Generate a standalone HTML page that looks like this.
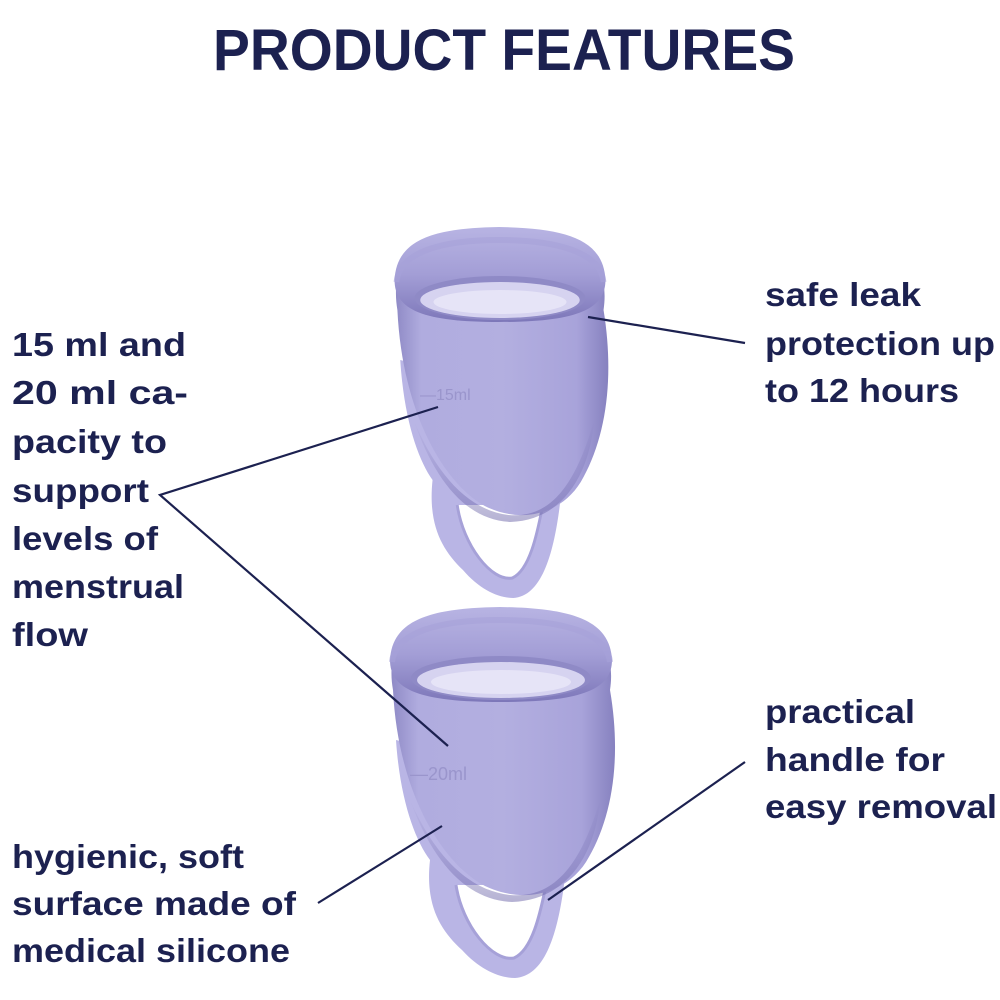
<!DOCTYPE html>
<html><head><meta charset="utf-8"><style>
html,body{margin:0;padding:0;background:#fff}
svg{display:block}
.t{font-family:"Liberation Sans",sans-serif;font-size:33px;font-weight:bold;fill:#1c2150}
</style></head><body>
<svg width="1000" height="1000" viewBox="0 0 1000 1000" xmlns="http://www.w3.org/2000/svg">
<defs>
<linearGradient id="body" x1="0" x2="1" y1="0" y2="0">
<stop offset="0" stop-color="#8f8ac6"/><stop offset="0.12" stop-color="#b0acdf"/>
<stop offset="0.5" stop-color="#b3afe0"/><stop offset="0.85" stop-color="#a8a3da"/><stop offset="1" stop-color="#8681bf"/>
</linearGradient>
<linearGradient id="shade" x1="0" x2="0" y1="0" y2="1">
<stop offset="0" stop-color="#6b64a8" stop-opacity="0"/><stop offset="1" stop-color="#6b64a8" stop-opacity="0.5"/>
</linearGradient>
<linearGradient id="rimg" x1="0" x2="0" y1="0" y2="1">
<stop offset="0" stop-color="#b8b4e3"/><stop offset="0.5" stop-color="#a39ed6"/><stop offset="1" stop-color="#7d77b9"/>
</linearGradient>
<g id="cup">
<path d="M480,760 L396,740 C400,800 415,840 430,860 C425,905 440,930 462,950 C480,970 500,978 515,978 C548,976 560,925 566,868 L560,800 Z" fill="#b9b5e5"/>
<path d="M456,885 C462,925 492,962 514,958 C532,950 540,915 546,885 Z" fill="#fff"/>
<path d="M456,885 C462,925 492,962 514,958 C532,950 540,915 546,885" fill="none" stroke="#a6a1d8" stroke-width="3"/>
<path d="M393,690 C386,650 400,612 500,608 C600,612 616,650 610,690 C622,760 612,820 586,862 C566,893 525,905 485,886 C440,862 398,790 393,690 Z" fill="url(#body)"/>
<path d="M410,800 C432,850 465,890 510,895 C548,898 578,875 600,800 C596,850 570,900 512,902 C465,900 432,860 410,800Z" fill="url(#shade)"/>
<path d="M390,660 C392,620 430,608 500,607 C572,608 610,620 612,660 C612,690 580,702 500,702 C420,702 390,690 390,660Z" fill="url(#rimg)"/>
<path d="M392,662 C395,632 440,620 500,620 C560,620 607,632 610,662" fill="none" stroke="#a6a1d8" stroke-width="6" opacity="0.6"/>
<ellipse cx="501" cy="678" rx="90" ry="22" fill="#8f8ac6"/>
<ellipse cx="501" cy="680" rx="84" ry="18" fill="#d6d3f0"/>
<ellipse cx="501" cy="682" rx="70" ry="12" fill="#e6e4f7"/>
</g>
</defs>
<text x="504" y="70" text-anchor="middle" font-family="Liberation Sans,sans-serif" font-weight="bold" font-size="58" fill="#1c2150" textLength="582" lengthAdjust="spacingAndGlyphs">PRODUCT FEATURES</text>

<use href="#cup" transform="translate(500,-380) scale(0.95,1) translate(-501,0)"/>
<use href="#cup"/>
<text x="420" y="400" font-family="Liberation Sans,sans-serif" font-size="16" fill="#9a95cc">—15ml</text>
<text x="410" y="780" font-family="Liberation Sans,sans-serif" font-size="18" fill="#9a95cc">—20ml</text>

<g stroke="#1c2150" stroke-width="2.2" fill="none">
<line x1="588" y1="317" x2="745" y2="343"/>
<polyline points="438,407 160,495 448,746"/>
<line x1="745" y1="762" x2="548" y2="900"/>
<line x1="318" y1="903" x2="442" y2="826"/>
</g>

<g class="t">
<text x="12" y="356" textLength="174" lengthAdjust="spacingAndGlyphs">15 ml and</text>
<text x="12" y="404" textLength="176" lengthAdjust="spacingAndGlyphs">20 ml ca-</text>
<text x="12" y="453" textLength="155" lengthAdjust="spacingAndGlyphs">pacity to</text>
<text x="12" y="502" textLength="137" lengthAdjust="spacingAndGlyphs">support</text>
<text x="12" y="550" textLength="146" lengthAdjust="spacingAndGlyphs">levels of</text>
<text x="12" y="598" textLength="172" lengthAdjust="spacingAndGlyphs">menstrual</text>
<text x="12" y="646" textLength="76" lengthAdjust="spacingAndGlyphs">flow</text>
<text x="765" y="306" textLength="156" lengthAdjust="spacingAndGlyphs">safe leak</text>
<text x="765" y="355" textLength="230" lengthAdjust="spacingAndGlyphs">protection up</text>
<text x="765" y="402" textLength="194" lengthAdjust="spacingAndGlyphs">to 12 hours</text>
<text x="765" y="723" textLength="150" lengthAdjust="spacingAndGlyphs">practical</text>
<text x="765" y="771" textLength="180" lengthAdjust="spacingAndGlyphs">handle for</text>
<text x="765" y="818" textLength="232" lengthAdjust="spacingAndGlyphs">easy removal</text>
<text x="12" y="868" textLength="232" lengthAdjust="spacingAndGlyphs">hygienic, soft</text>
<text x="12" y="915" textLength="284" lengthAdjust="spacingAndGlyphs">surface made of</text>
<text x="12" y="962" textLength="278" lengthAdjust="spacingAndGlyphs">medical silicone</text>
</g>
</svg>
</body></html>
